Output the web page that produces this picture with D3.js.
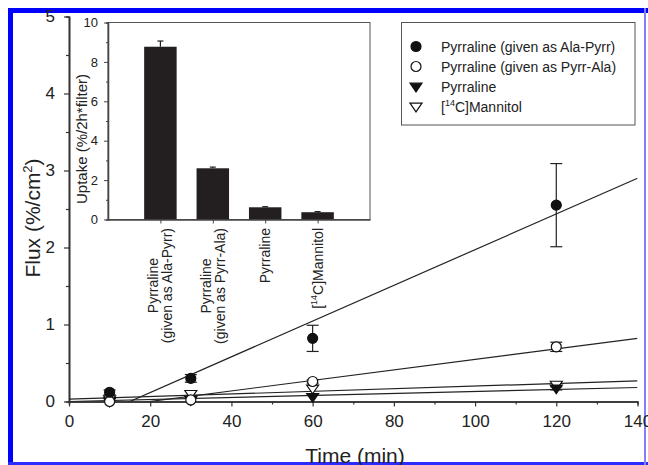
<!DOCTYPE html>
<html>
<head>
<meta charset="utf-8">
<script src="https://d3js.org/d3.v7.min.js"></script>
<style>
  body { margin: 0; background: #fff; }
  svg { display: block; font-family: "Liberation Sans", Arial, sans-serif; }
</style>
</head>
<body>
<div id="chart"></div>
<script>
// ---- main plot data (flux, %/cm2) ----
const times = [10, 30, 60, 120];
const alaPyrr = [0.12, 0.30, 0.82, 2.55];
const alaPyrrErr = [0.03, 0.05, 0.17, 0.54];
const pyrrAla = [0.0, 0.02, 0.26, 0.71];
const pyrrAlaErr = [0.0, 0.0, 0.02, 0.06];
const pyrraline = [0.0, 0.02, 0.06, 0.17];
const pyrralineErr = [0, 0, 0.01, 0.02];
const mannitol = [0.03, 0.10, 0.17, 0.22];
const mannitolErr = [0, 0, 0.01, 0.01];
// regression lines [intercept, slope]
const alaPyrrFit = [-0.348, 0.0232];
const pyrrAlaFit = [-0.136, 0.00683];
const pyrralineFit = [0.0, 0.0013];
const mannitolFit = [0.03, 0.0017];

const xTicks = [0, 20, 40, 60, 80, 100, 120, 140];
const yTicks = [0, 1, 2, 3, 4, 5];

// ---- inset data (uptake, %/2h*filter) ----
const insetCats = [
  ["Pyrraline", "(given as Ala-Pyrr)"],
  ["Pyrraline", "(given as Pyrr-Ala)"],
  ["Pyrraline"],
  ["[14C]Mannitol"]
];
const insetVals = [8.77, 2.60, 0.62, 0.37];
const insetErr = [0.29, 0.06, 0.03, 0.03];
const insetTicks = [0, 2, 4, 6, 8, 10];

const W = 648, H = 465;
const svg = d3.select("#chart").append("svg")
  .attr("width", W).attr("height", H);

// blue frame (cropped figure border)
svg.append("rect").attr("x", 8).attr("y", 8).attr("width", W - 8).attr("height", 5).attr("fill", "#0000ff");
svg.append("rect").attr("x", 8).attr("y", 8).attr("width", 5).attr("height", H - 8).attr("fill", "#0000ff");
svg.append("rect").attr("x", 8).attr("y", 462).attr("width", W - 8).attr("height", 3).attr("fill", "#2b2bff");
svg.append("rect").attr("x", 644).attr("y", 8).attr("width", 2).attr("height", H - 8).attr("fill", "#8080ff");

const ink = "#222";

// ---- main axes ----
const x = d3.scaleLinear().domain([0, 140]).range([69, 637.5]);
const y = d3.scaleLinear().domain([0, 5]).range([401.5, 16.5]);

const gx = svg.append("g").attr("transform", "translate(0," + y(0) + ")");
gx.call(d3.axisBottom(x).tickValues(xTicks).tickSize(5).tickSizeOuter(0).tickPadding(8).tickFormat(d3.format("d")));
gx.append("g").call(d3.axisBottom(x).tickValues(d3.range(10, 140, 20)).tickSize(3).tickFormat(""));
const gy = svg.append("g").attr("transform", "translate(" + x(0) + ",0)");
gy.call(d3.axisLeft(y).tickValues(yTicks).tickSize(5).tickSizeOuter(0).tickPadding(9).tickFormat(d3.format("d")));
gy.append("g").call(d3.axisLeft(y).tickValues(d3.range(0.5, 5, 1)).tickSize(3).tickFormat(""));
svg.selectAll(".domain").attr("stroke", "#333").attr("stroke-width", 1.6);
svg.selectAll(".tick line").attr("stroke", "#333").attr("stroke-width", 1.2);
gx.selectAll("text").attr("font-size", 17).attr("fill", ink).attr("font-family", "Liberation Sans, Arial");
gy.selectAll("text").attr("font-size", 17).attr("fill", ink).attr("font-family", "Liberation Sans, Arial");

// axis titles
svg.append("text").attr("x", 355).attr("y", 463).attr("text-anchor", "middle")
  .attr("font-size", 21).attr("fill", ink).text("Time (min)");
const yt = svg.append("text").attr("transform", "translate(40,218) rotate(-90)")
  .attr("text-anchor", "middle").attr("font-size", 21).attr("fill", ink);
yt.append("tspan").text("Flux (%/cm");
yt.append("tspan").attr("font-size", 13).attr("dy", -8).text("2");
yt.append("tspan").attr("dy", 8).text(")");

// clip for regression lines (above y = 0)
svg.append("clipPath").attr("id", "plotclip").append("rect")
  .attr("x", x(0)).attr("y", y(5)).attr("width", x(140) - x(0)).attr("height", y(0) - y(5));

const series = [
  { vals: alaPyrr, err: alaPyrrErr, fit: alaPyrrFit, sym: "circle", fill: "#111" },
  { vals: pyrrAla, err: pyrrAlaErr, fit: pyrrAlaFit, sym: "circle", fill: "#fff" },
  { vals: pyrraline, err: pyrralineErr, fit: pyrralineFit, sym: "tri", fill: "#111" },
  { vals: mannitol, err: mannitolErr, fit: mannitolFit, sym: "tri", fill: "#fff" }
];

const line = d3.line().x(d => x(d[0])).y(d => y(d[1]));
const linesG = svg.append("g").attr("clip-path", "url(#plotclip)");
series.forEach(s => {
  const pts = [0, 140].map(t => [t, s.fit[0] + s.fit[1] * t]);
  linesG.append("path").attr("d", line(pts)).attr("fill", "none")
    .attr("stroke", "#222").attr("stroke-width", 1.2);
});

function drawSymbol(g, sym, cx, cy, fill) {
  if (sym === "circle") {
    g.append("circle").attr("cx", cx).attr("cy", cy).attr("r", 5)
      .attr("fill", fill).attr("stroke", "#111").attr("stroke-width", 1.2);
  } else {
    const r = 6;
    g.append("path")
      .attr("d", `M${cx - r},${cy - r * 0.55}L${cx + r},${cy - r * 0.55}L${cx},${cy + r * 0.9}Z`)
      .attr("fill", fill).attr("stroke", "#111").attr("stroke-width", 1.2);
  }
}

// draw in reverse so filled circles sit on top
series.slice().reverse().forEach(s => {
  const g = svg.append("g");
  times.forEach((t, i) => {
    const e = s.err[i];
    if (e > 0.015) {
      const cx = x(t);
      g.append("line").attr("x1", cx).attr("x2", cx).attr("y1", y(s.vals[i] - e)).attr("y2", y(s.vals[i] + e))
        .attr("stroke", "#222").attr("stroke-width", 1.2);
      [s.vals[i] - e, s.vals[i] + e].forEach(v => {
        g.append("line").attr("x1", cx - 6).attr("x2", cx + 6).attr("y1", y(v)).attr("y2", y(v))
          .attr("stroke", "#222").attr("stroke-width", 1.2);
      });
    }
    drawSymbol(g, s.sym, x(t), y(s.vals[i]), s.fill);
  });
});

// ---- legend ----
const legendLabels = [
  ["Pyrraline (given as Ala-Pyrr)"],
  ["Pyrraline (given as Pyrr-Ala)"],
  ["Pyrraline"],
  ["[", "14", "C]Mannitol"]
];
svg.append("rect").attr("x", 401.5).attr("y", 22.5).attr("width", 233.5).attr("height", 102.5)
  .attr("fill", "#fff").attr("stroke", "#555").attr("stroke-width", 1);
legendLabels.forEach((lab, i) => {
  const ly = 46.5 + i * 20;
  drawSymbol(svg, series[i].sym, 416, ly, series[i].fill);
  const t = svg.append("text").attr("x", 441).attr("y", ly + 5).attr("font-size", 14).attr("fill", ink);
  if (lab.length === 1) t.text(lab[0]);
  else {
    t.append("tspan").text(lab[0]);
    t.append("tspan").attr("font-size", 9).attr("dy", -6).text(lab[1]);
    t.append("tspan").attr("dy", 6).text(lab[2]);
  }
});

// ---- inset bar chart ----
const ix = d3.scaleLinear().domain([0, 5]).range([108, 370]);
const iy = d3.scaleLinear().domain([0, 10]).range([219.5, 22.5]);
const barW = 0.62;

const inset = svg.append("g");
inset.append("rect").attr("x", ix(0)).attr("y", iy(10)).attr("width", ix(5) - ix(0)).attr("height", iy(0) - iy(10))
  .attr("fill", "#fff").attr("stroke", "#555").attr("stroke-width", 1);

insetVals.forEach((v, i) => {
  const c = i + 1;
  inset.append("rect").attr("x", ix(c - barW / 2)).attr("y", iy(v))
    .attr("width", ix(c + barW / 2) - ix(c - barW / 2)).attr("height", iy(0) - iy(v))
    .attr("fill", "#231f20");
  const e = insetErr[i];
  inset.append("line").attr("x1", ix(c)).attr("x2", ix(c)).attr("y1", iy(v)).attr("y2", iy(v + e))
    .attr("stroke", "#231f20").attr("stroke-width", 1.2);
  inset.append("line").attr("x1", ix(c) - 3).attr("x2", ix(c) + 3).attr("y1", iy(v + e)).attr("y2", iy(v + e))
    .attr("stroke", "#231f20").attr("stroke-width", 1.2);
});

const igx = inset.append("g").attr("transform", "translate(0," + iy(0) + ")");
igx.call(d3.axisBottom(ix).tickValues([1, 2, 3, 4]).tickSize(4).tickSizeOuter(0).tickFormat(""));
const igy = inset.append("g").attr("transform", "translate(" + ix(0) + ",0)");
igy.call(d3.axisLeft(iy).tickValues(insetTicks).tickSize(4).tickSizeOuter(0).tickPadding(6));
igy.append("g").call(d3.axisLeft(iy).tickValues(d3.range(1, 10, 2)).tickSize(2).tickFormat(""));
inset.selectAll(".domain").attr("stroke", "#444").attr("stroke-width", 1.3);
inset.selectAll(".tick line").attr("stroke", "#444");
igy.selectAll("text").attr("font-size", 13).attr("fill", ink).attr("font-family", "Liberation Sans, Arial");

// inset axis title
svg.append("text").attr("transform", "translate(87,139) rotate(-90)")
  .attr("text-anchor", "middle").attr("font-size", 15).attr("fill", ink)
  .text("Uptake (%/2h*filter)");

// inset category labels, rotated
const labTop = 228;
insetCats.forEach((lines, i) => {
  const bc = ix(i + 1);
  const offs = lines.length === 2 ? [-2, 12] : [5];
  const texts = lines.map((l, j) => {
    const t = svg.append("text").attr("font-size", 14).attr("fill", ink);
    if (l.startsWith("[14C]")) {
      t.append("tspan").text("[");
      t.append("tspan").attr("font-size", 9).attr("dy", -6).text("14");
      t.append("tspan").attr("dy", 6).text("C]Mannitol");
    } else t.text(l);
    return t;
  });
  const maxLen = d3.max(texts, t => t.node().getComputedTextLength());
  texts.forEach((t, j) => {
    t.attr("text-anchor", "middle")
      .attr("transform", `translate(${bc + offs[j]},${labTop + maxLen / 2}) rotate(-90)`);
  });
});
</script>
</body>
</html>
